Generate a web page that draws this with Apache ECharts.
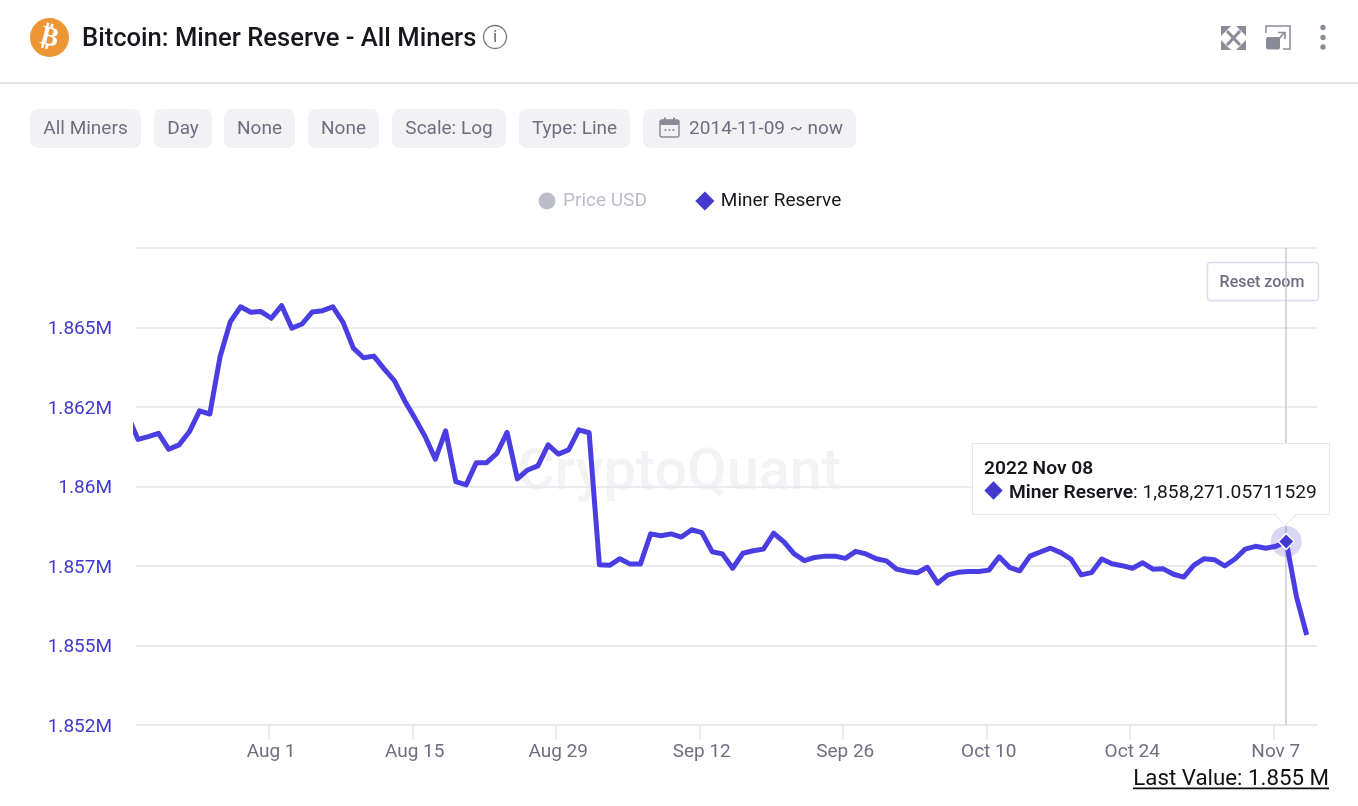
<!DOCTYPE html>
<html><head><meta charset="utf-8">
<style>html,body{margin:0;padding:0;background:#fff}#c{width:1358px;height:806px}</style>
<script src="https://cdn.jsdelivr.net/npm/echarts@6/dist/echarts.min.js"></script>
</head><body><div id="c"></div>
<script>
// x positions are days since 2022-07-18
const minerReserveK = [1862.22,
1861.48,1861.57,1861.67,1861.17,1861.31,1861.72,1862.38,1862.28,1864.08,1865.18,
1865.65,1865.48,1865.50,1865.29,1865.69,1864.98,1865.11,1865.49,1865.53,1865.65,
1865.16,1864.35,1864.05,1864.10,1863.70,1863.33,1862.70,1862.15,1861.57,1860.86,
1861.75,1860.15,1860.05,1860.75,1860.75,1861.04,1861.70,1860.24,1860.52,1860.65,
1861.31,1861.02,1861.15,1861.78,1861.69,1857.54,1857.52,1857.73,1857.56,1857.56,
1858.51,1858.45,1858.51,1858.41,1858.64,1858.55,1857.95,1857.88,1857.43,1857.90,
1857.98,1858.03,1858.53,1858.26,1857.88,1857.67,1857.77,1857.81,1857.81,1857.74,
1857.96,1857.88,1857.73,1857.66,1857.40,1857.33,1857.29,1857.46,1856.96,1857.22,
1857.30,1857.33,1857.33,1857.37,1857.79,1857.46,1857.35,1857.81,1857.94,1858.06,
1857.92,1857.72,1857.22,1857.29,1857.72,1857.57,1857.51,1857.43,1857.60,1857.40,
1857.41,1857.24,1857.15,1857.53,1857.73,1857.70,1857.50,1857.72,1858.03,1858.12,
1858.06,1858.12,1858.271,1856.53,1855.33];
const yTickLabels = ['1.852M','1.855M','1.857M','1.86M','1.862M','1.865M',''];
const xTickDays = [14,28,42,56,70,84,98,112];
const xTickLabels = ['Aug 1','Aug 15','Aug 29','Sep 12','Sep 26','Oct 10','Oct 24','Nov 7'];
const pillLabels = ['All Miners','Day','None','None','Scale: Log','Type: Line','2014-11-09 ~ now'];
const pillBoxes = [[30,111],[154,58],[224,71],[308,71],[392,114],[519,111],[643,213]];
const seriesData = minerReserveK.map((v,i)=>[i, Math.round(v*1000)]);
const xTicks = xTickDays.map(d=>d-0.23);
const xLabelAt = xTickDays.map(d=>d-0.02);
const tipIndex = 113;
const INDIGO='#4439cf', GREY='#6e6e80', ICON='#8b8b98', FONT='Roboto, sans-serif';

const pills = [];
pillLabels.forEach((t,i)=>{
  const [x,w]=pillBoxes[i];
  pills.push({type:'rect',shape:{x,y:109,width:w,height:39,r:8},style:{fill:'#f2f2f5'}});
  pills.push({type:'text',x:i===6?x+w-13:x+w/2,y:129.5,style:{text:t,fill:GREY,font:'19px '+FONT,align:i===6?'right':'center',verticalAlign:'middle'}});
});
const cal=[
 {type:'rect',shape:{x:660,y:120,width:19,height:17,r:2},style:{fill:'none',stroke:ICON,lineWidth:1.5}},
 {type:'rect',shape:{x:660,y:120,width:19,height:5,r:2},style:{fill:ICON}},
 {type:'rect',shape:{x:664,y:117.5,width:2,height:4},style:{fill:ICON}},
 {type:'rect',shape:{x:673,y:117.5,width:2,height:4},style:{fill:ICON}},
 {type:'text',x:669.5,y:131,style:{text:'···',fill:ICON,font:'bold 13px '+FONT,align:'center',verticalAlign:'middle'}}
];
const arrow=(p)=>({type:'polyline',shape:{points:p},style:{fill:'none',stroke:ICON,lineWidth:3}});
const corner=(p)=>({type:'polygon',shape:{points:p},style:{fill:ICON}});
const chrome=[
 {type:'circle',shape:{cx:49.5,cy:37.5,r:19.5},style:{fill:'#ec9636'}},
 {type:'text',x:49.5,y:38,rotation:-0.24,style:{text:'₿',fill:'#fff',font:'bold 27px "DejaVu Sans"',align:'center',verticalAlign:'middle'}},
 {type:'text',x:82,y:39.5,style:{text:'Bitcoin: Miner Reserve - All Miners',fill:'#16161c',font:'500 25.6px '+FONT,verticalAlign:'middle'}},
 {type:'circle',shape:{cx:495,cy:37,r:11.5},style:{fill:'none',stroke:'#77777f',lineWidth:1.3}},
 {type:'text',x:495,y:38,style:{text:'i',fill:'#66666e',font:'17px '+FONT,align:'center',verticalAlign:'middle'}},
 {type:'rect',shape:{x:0,y:82,width:1358,height:2},style:{fill:'#e6e6ea'}},
 arrow([[1227,31],[1240,45]]),arrow([[1240,31],[1227,45]]),
 corner([[1221,26],[1231,26],[1221,36]]),corner([[1246,26],[1236,26],[1246,36]]),
 corner([[1221,50],[1231,50],[1221,40]]),corner([[1246,50],[1236,50],[1246,40]]),
 {type:'polyline',shape:{points:[[1266,33],[1266,26],[1290,26],[1290,49],[1283,49]]},style:{fill:'none',stroke:ICON,lineWidth:1.5}},
 {type:'rect',shape:{x:1266,y:37,width:14,height:12.5,r:2},style:{fill:ICON}},
 {type:'polyline',shape:{points:[[1277,41],[1284,33]]},style:{fill:'none',stroke:ICON,lineWidth:1.6}},
 {type:'polyline',shape:{points:[[1278,32.5],[1285,32.5],[1285,39]]},style:{fill:'none',stroke:ICON,lineWidth:1.6}},
 {type:'circle',shape:{cx:1323,cy:27.5,r:2.7},style:{fill:ICON}},
 {type:'circle',shape:{cx:1323,cy:37.5,r:2.7},style:{fill:ICON}},
 {type:'circle',shape:{cx:1323,cy:47,r:2.7},style:{fill:ICON}},
 {type:'text',z:-1,x:679,y:474.5,style:{text:'CryptoQuant',fill:'#f3f3f6',font:'500 57.5px '+FONT,align:'center',verticalAlign:'middle'}},
 {type:'rect',z:1,shape:{x:1207.5,y:262.5,width:111,height:38,r:3},style:{fill:'#fff',stroke:'#dcdcf4',lineWidth:1.5}},
 {type:'text',z:1,x:1262,y:282.5,style:{text:'Reset zoom',fill:GREY,font:'500 16px '+FONT,align:'center',verticalAlign:'middle'}},
 {type:'text',x:1329,y:779.5,style:{text:'Last Value: 1.855 M',fill:'#111',font:'22.3px '+FONT,align:'right',verticalAlign:'middle'}},
 {type:'rect',shape:{x:1133,y:787.5,width:196,height:1.8},style:{fill:'#111'}},
 ...pills,...cal
];

const chart=echarts.init(document.getElementById('c'),null,{renderer:'canvas',width:1358,height:806});
chart.setOption({
 animation:false,
 backgroundColor:'#fff',
 textStyle:{fontFamily:FONT},
 grid:{left:136,right:41,top:248,bottom:81},
 legend:{left:531,top:184,itemGap:46,itemWidth:22,itemHeight:22,itemTextGap:4,
  selected:{'Price USD':false},inactiveColor:'#bcbcca',
  textStyle:{fontSize:19,color:'#16161c',fontFamily:FONT},
  data:[{name:'Price USD',icon:'path://M0 0L0 0M22 22L22 22M11 2.5A8.5 8.5 0 1 0 11 19.5A8.5 8.5 0 1 0 11 2.5Z'},{name:'Miner Reserve',icon:'diamond'}]},
 tooltip:{trigger:'axis',alwaysShowContent:true,position:[972,443],padding:0,borderWidth:0,backgroundColor:'transparent',extraCssText:'box-shadow:none;',
  axisPointer:{type:'line',lineStyle:{color:'#c9c9d0',width:1.5,type:'solid'},z:2},
  formatter:()=>`<div style="position:relative;box-sizing:border-box;width:358px;height:72px;background:#fff;border:1.5px solid #e8e8ec;padding:12px 11px;font:19.2px/24px Roboto,sans-serif;color:#16161c;white-space:nowrap"><div style="font-weight:600;">2022 Nov 08</div><div><span style="display:inline-block;width:13px;height:13px;background:${INDIGO};transform:rotate(45deg);margin:0 9px 0 3px;vertical-align:1px"></span><span style="font-weight:600">Miner Reserve</span>: 1,858,271.05711529</div><div style="position:absolute;left:305px;bottom:-9px;width:14px;height:14px;background:#fff;border-right:1.5px solid #e8e8ec;border-bottom:1.5px solid #e8e8ec;transform:rotate(45deg)"></div></div>`},
 xAxis:{type:'value',min:0.8,max:116,
  splitLine:{show:false},
  axisTick:{show:true,customValues:xTicks,length:15,lineStyle:{color:'#e6e6eb',width:1.5}},
  axisLine:{show:true,lineStyle:{color:'#e6e6eb',width:1.5}},
  axisLabel:{customValues:xLabelAt,color:GREY,fontSize:19,margin:18,hideOverlap:false,
   formatter:(v)=>xTickLabels[xLabelAt.indexOf(v)]||''}},
 yAxis:{type:'value',min:1852500,max:1867500,interval:2500,
  axisLine:{show:false},axisTick:{show:false},
  splitLine:{lineStyle:{color:'#e6e6eb',width:1.5}},
  axisLabel:{color:INDIGO,fontSize:19,margin:24,verticalAlign:'top',lineHeight:4,formatter:(v)=>yTickLabels[Math.round((v-1852500)/2500)]}},
 series:[
  {name:'Price USD',type:'line',data:[],itemStyle:{color:'#bcbcca'}},
  {name:'halo',type:'scatter',data:[seriesData[tipIndex]],symbol:'circle',symbolSize:31,z:3,silent:true,itemStyle:{color:'rgba(68,57,207,0.25)'},tooltip:{show:false}},
  {name:'Miner Reserve',type:'line',data:seriesData,z:4,showSymbol:false,symbol:'diamond',symbolSize:16,smooth:false,clip:true,
   lineStyle:{color:INDIGO,width:5,join:'round'},itemStyle:{color:INDIGO,borderColor:'#fff',borderWidth:1.5},
   emphasis:{scale:1,focus:'none',lineStyle:{width:5},itemStyle:{color:INDIGO,borderColor:'#fff',borderWidth:1.5}}}
 ],
 graphic:chrome
});
chart.dispatchAction({type:'showTip',seriesIndex:2,dataIndex:tipIndex});
</script></body></html>
